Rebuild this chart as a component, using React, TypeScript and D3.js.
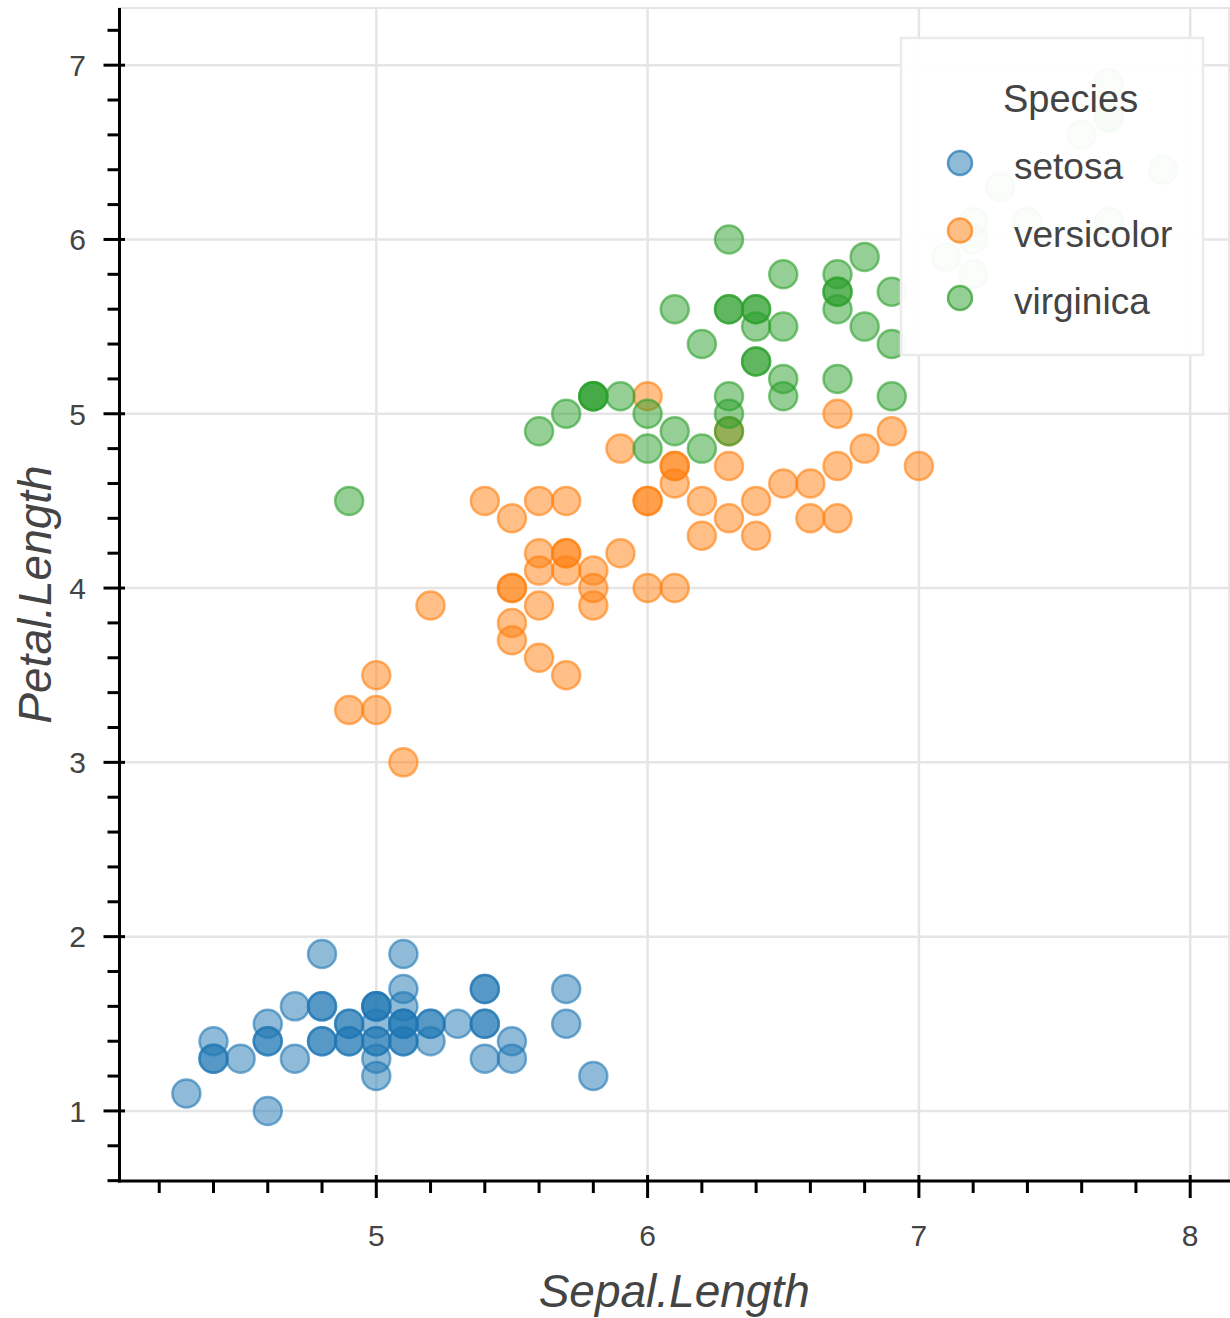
import React from "react";
import * as d3 from "d3";

const species = ["setosa", "versicolor", "virginica"];
const colors = ["#1f77b4", "#ff7f0e", "#2ca02c"];

const setosaSepal = [5.1, 4.9, 4.7, 4.6, 5.0, 5.4, 4.6, 5.0, 4.4, 4.9, 5.4, 4.8, 4.8, 4.3, 5.8, 5.7, 5.4, 5.1, 5.7, 5.1, 5.4, 5.1, 4.6, 5.1, 4.8, 5.0, 5.0, 5.2, 5.2, 4.7, 4.8, 5.4, 5.2, 5.5, 4.9, 5.0, 5.5, 4.9, 4.4, 5.1, 5.0, 4.5, 4.4, 5.0, 5.1, 4.8, 5.1, 4.6, 5.3, 5.0];
const setosaPetal = [1.4, 1.4, 1.3, 1.5, 1.4, 1.7, 1.4, 1.5, 1.4, 1.5, 1.5, 1.6, 1.4, 1.1, 1.2, 1.5, 1.3, 1.4, 1.7, 1.5, 1.7, 1.5, 1.0, 1.7, 1.9, 1.6, 1.6, 1.5, 1.4, 1.6, 1.6, 1.5, 1.5, 1.4, 1.5, 1.2, 1.3, 1.4, 1.3, 1.5, 1.3, 1.3, 1.3, 1.6, 1.9, 1.4, 1.6, 1.4, 1.5, 1.4];

const versicolorSepal = [7.0, 6.4, 6.9, 5.5, 6.5, 5.7, 6.3, 4.9, 6.6, 5.2, 5.0, 5.9, 6.0, 6.1, 5.6, 6.7, 5.6, 5.8, 6.2, 5.6, 5.9, 6.1, 6.3, 6.1, 6.4, 6.6, 6.8, 6.7, 6.0, 5.7, 5.5, 5.5, 5.8, 6.0, 5.4, 6.0, 6.7, 6.3, 5.6, 5.5, 5.5, 6.1, 5.8, 5.0, 5.6, 5.7, 5.7, 6.2, 5.1, 5.7];
const versicolorPetal = [4.7, 4.5, 4.9, 4.0, 4.6, 4.5, 4.7, 3.3, 4.6, 3.9, 3.5, 4.2, 4.0, 4.7, 3.6, 4.4, 4.5, 4.1, 4.5, 3.9, 4.8, 4.0, 4.9, 4.7, 4.3, 4.4, 4.8, 5.0, 4.5, 3.5, 3.8, 3.7, 3.9, 5.1, 4.5, 4.5, 4.7, 4.4, 4.1, 4.0, 4.4, 4.6, 4.0, 3.3, 4.2, 4.2, 4.2, 4.3, 3.0, 4.1];

const virginicaSepal = [6.3, 5.8, 7.1, 6.3, 6.5, 7.6, 4.9, 7.3, 6.7, 7.2, 6.5, 6.4, 6.8, 5.7, 5.8, 6.4, 6.5, 7.7, 7.7, 6.0, 6.9, 5.6, 7.7, 6.3, 6.7, 7.2, 6.2, 6.1, 6.4, 7.2, 7.4, 7.9, 6.4, 6.3, 6.1, 7.7, 6.3, 6.4, 6.0, 6.9, 6.7, 6.9, 5.8, 6.8, 6.7, 6.7, 6.3, 6.5, 6.2, 5.9];
const virginicaPetal = [6.0, 5.1, 5.9, 5.6, 5.8, 6.6, 4.5, 6.3, 5.8, 6.1, 5.1, 5.3, 5.5, 5.0, 5.1, 5.3, 5.5, 6.7, 6.9, 5.0, 5.7, 4.9, 6.7, 4.9, 5.7, 6.0, 4.8, 4.9, 5.6, 5.8, 6.1, 6.4, 5.6, 5.1, 5.6, 6.1, 5.6, 5.5, 4.8, 5.4, 5.6, 5.1, 5.1, 5.9, 5.7, 5.2, 5.0, 5.2, 5.4, 5.1];

const xTicks = [5, 6, 7, 8];
const yTicks = [1, 2, 3, 4, 5, 6, 7];

const sepalBySpecies = [setosaSepal, versicolorSepal, virginicaSepal];
const petalBySpecies = [setosaPetal, versicolorPetal, virginicaPetal];

const W = 1230;
const H = 1318;
const left = 119.5;
const right = 1229;
const top = 8;
const bottom = 1181;

const font = "'Liberation Sans', Arial, Helvetica, sans-serif";
const textColor = "#444444";
const gridColor = "#e5e5e5";

export default function App() {
  const x = d3.scaleLinear().domain([4.0535, 8.143]).range([left, right]);
  const y = d3.scaleLinear().domain([0.598, 7.328]).range([bottom, top]);

  // minor ticks every 0.2
  const xMinor = d3.range(21, 41).map(i => i / 5).filter(v => !xTicks.includes(v));
  const yMinor = d3.range(3, 37).map(i => i / 5).filter(v => !yTicks.includes(v));

  const points = species.map((s, si) =>
    sepalBySpecies[si].map((sl, i) => ({ s, si, sl, pl: petalBySpecies[si][i] }))
  );

  return (
    <svg
      width={W}
      height={H}
      style={{ position: "absolute", left: 0, top: 0, background: "#fff" }}
    >
      {/* outline */}
      <rect x={left} y={top} width={right - left} height={bottom - top} fill="none" stroke={gridColor} strokeWidth={2} />

      {/* grid */}
      {xTicks.map(t => (
        <line key={"gx" + t} x1={x(t)} x2={x(t)} y1={top} y2={bottom} stroke={gridColor} strokeWidth={2.5} />
      ))}
      {yTicks.map(t => (
        <line key={"gy" + t} x1={left} x2={right} y1={y(t)} y2={y(t)} stroke={gridColor} strokeWidth={2.5} />
      ))}

      {/* points */}
      {points.map((grp, si) => (
        <g key={"sp" + si}>
          {grp.map((d, i) => (
            <circle
              key={i}
              cx={x(d.sl)}
              cy={y(d.pl)}
              r={14}
              fill={colors[si]}
              fillOpacity={0.5}
              stroke={colors[si]}
              strokeOpacity={0.6}
              strokeWidth={2.5}
            />
          ))}
        </g>
      ))}

      {/* legend */}
      <g>
        <rect x={901} y={38} width={302} height={317} fill="#fff" fillOpacity={0.95} stroke="#ebebeb" strokeWidth={2.5} />
        <text x={1003} y={112} fontFamily={font} fontSize={38} fill={textColor}>
          Species
        </text>
        {species.map((s, i) => (
          <g key={s} transform={`translate(0,${163 + i * 67.5})`}>
            <circle cx={960} cy={0} r={12} fill={colors[i]} fillOpacity={0.5} stroke={colors[i]} strokeOpacity={0.7} strokeWidth={2.5} />
            <text x={1014} y={16} fontFamily={font} fontSize={37} fill={textColor}>
              {s}
            </text>
          </g>
        ))}
      </g>

      {/* y axis */}
      <line x1={left} x2={left} y1={top} y2={bottom + 1.5} stroke="#000" strokeWidth={3} />
      {yTicks.map(t => (
        <g key={"yt" + t}>
          <line x1={left - 16} x2={left + 5.5} y1={y(t)} y2={y(t)} stroke="#000" strokeWidth={3} />
          <text x={86} y={y(t)} dy="0.36em" textAnchor="end" fontFamily={font} fontSize={30} fill={textColor}>
            {t}
          </text>
        </g>
      ))}
      {yMinor.map(t => (
        <line key={"ym" + t} x1={left - 12} x2={left} y1={y(t)} y2={y(t)} stroke="#000" strokeWidth={3} />
      ))}

      {/* x axis */}
      <line x1={left - 1.5} x2={right + 1} y1={bottom} y2={bottom} stroke="#000" strokeWidth={3} />
      {xTicks.map(t => (
        <g key={"xt" + t}>
          <line x1={x(t)} x2={x(t)} y1={bottom - 6} y2={bottom + 17} stroke="#000" strokeWidth={3} />
          <text x={x(t)} y={1246} textAnchor="middle" fontFamily={font} fontSize={30} fill={textColor}>
            {t}
          </text>
        </g>
      ))}
      {xMinor.map(t => (
        <line key={"xm" + t} x1={x(t)} x2={x(t)} y1={bottom} y2={bottom + 12} stroke="#000" strokeWidth={3} />
      ))}

      {/* axis labels */}
      <text
        x={(left + right) / 2}
        y={1307}
        textAnchor="middle"
        fontFamily={font}
        fontSize={46}
        fontStyle="italic"
        fill={textColor}
      >
        Sepal.Length
      </text>
      <text
        transform={`translate(51,${(top + bottom) / 2}) rotate(-90)`}
        textAnchor="middle"
        fontFamily={font}
        fontSize={46}
        fontStyle="italic"
        fill={textColor}
      >
        Petal.Length
      </text>
    </svg>
  );
}
